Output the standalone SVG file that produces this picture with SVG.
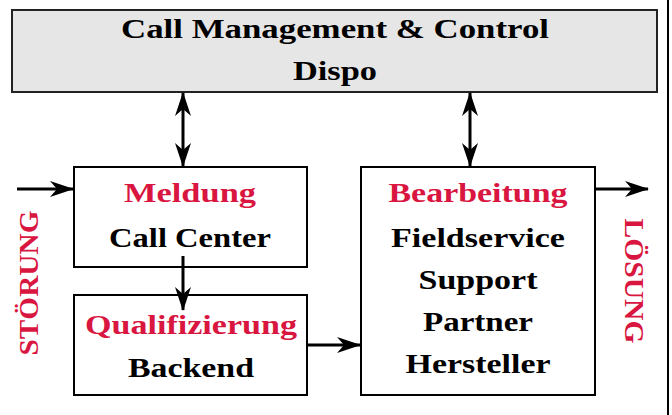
<svg xmlns="http://www.w3.org/2000/svg" width="672" height="415" viewBox="0 0 672 415">
<style>
.box{fill:#fff;stroke:#000;stroke-width:2}
.top{fill:#e6e6e6;stroke:#222;stroke-width:2}
.t{font-family:"Liberation Serif",serif;font-weight:bold;font-size:28px;text-anchor:middle;fill:#000}
.r{fill:#d9163f}
.c{stroke:#000;stroke-width:3;fill:none}
</style>
<defs>
<marker id="ah" viewBox="0 0 24 16" refX="23" refY="8" markerWidth="24" markerHeight="16" markerUnits="userSpaceOnUse" orient="auto-start-reverse">
<path d="M0,0 L24,8 L0,16 L7,8 Z" fill="#000"/>
</marker>
</defs>
<line x1="668" y1="0" x2="668" y2="415" stroke="#000" stroke-width="2"/>
<g id="dispo">
<rect class="top" x="12" y="10" width="645" height="82"/>
<text class="t" x="335" y="38" textLength="428" lengthAdjust="spacingAndGlyphs">Call Management &amp; Control</text>
<text class="t" x="335" y="80" textLength="84" lengthAdjust="spacingAndGlyphs">Dispo</text>
</g>
<g id="meldung">
<rect class="box" x="74" y="167" width="233" height="100"/>
<text class="t r" x="190" y="202" textLength="132" lengthAdjust="spacingAndGlyphs">Meldung</text>
<text class="t" x="190" y="247" textLength="162" lengthAdjust="spacingAndGlyphs">Call Center</text>
</g>
<g id="qualifizierung">
<rect class="box" x="74" y="295" width="233" height="100"/>
<text class="t r" x="191" y="334" textLength="212" lengthAdjust="spacingAndGlyphs">Qualifizierung</text>
<text class="t" x="191" y="377" textLength="126" lengthAdjust="spacingAndGlyphs">Backend</text>
</g>
<g id="bearbeitung">
<rect class="box" x="361" y="167" width="234" height="228"/>
<text class="t r" x="478" y="202" textLength="179" lengthAdjust="spacingAndGlyphs">Bearbeitung</text>
<text class="t" x="478" y="247" textLength="174" lengthAdjust="spacingAndGlyphs">Fieldservice</text>
<text class="t" x="478" y="289" textLength="119" lengthAdjust="spacingAndGlyphs">Support</text>
<text class="t" x="478" y="331" textLength="110" lengthAdjust="spacingAndGlyphs">Partner</text>
<text class="t" x="478" y="373" textLength="145" lengthAdjust="spacingAndGlyphs">Hersteller</text>
</g>
<g id="stoerung">
<text class="t r" transform="translate(38,283) rotate(-90)" x="0" y="0" textLength="145" lengthAdjust="spacingAndGlyphs">STÖRUNG</text>
</g>
<g id="loesung">
<text class="t r" transform="translate(625,281) rotate(90)" x="0" y="0" textLength="125" lengthAdjust="spacingAndGlyphs">LÖSUNG</text>
</g>
<g id="connectors">
<line class="c" x1="183" y1="93" x2="183" y2="166" marker-start="url(#ah)" marker-end="url(#ah)"/>
<line class="c" x1="470" y1="93" x2="470" y2="166" marker-start="url(#ah)" marker-end="url(#ah)"/>
<line class="c" x1="17" y1="189" x2="73" y2="189" marker-end="url(#ah)"/>
<line class="c" x1="183" y1="256" x2="183" y2="310" marker-end="url(#ah)"/>
<line class="c" x1="307" y1="345" x2="360" y2="345" marker-end="url(#ah)"/>
<line class="c" x1="595" y1="189" x2="648" y2="189" marker-end="url(#ah)"/>
</g>
</svg>
